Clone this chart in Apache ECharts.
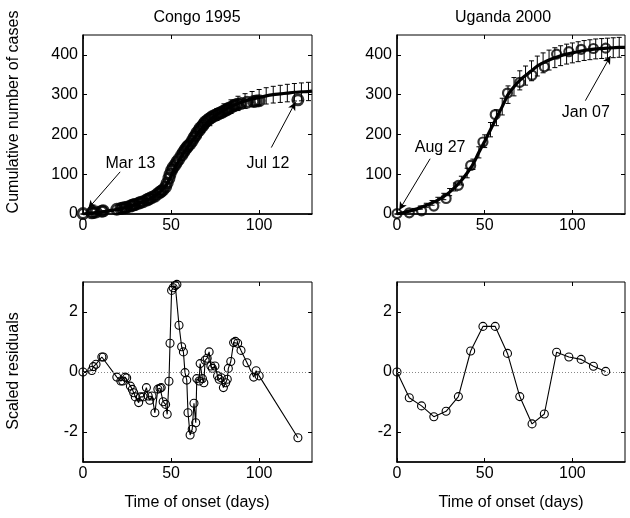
<!DOCTYPE html>
<html><head><meta charset="utf-8">
<script src="https://cdn.jsdelivr.net/npm/echarts/dist/echarts.min.js"></script>
<style>html,body{margin:0;padding:0;background:#fff}#c{width:630px;height:518px}</style>
</head><body><div id="c"></div>
<script>
// ---- Congo 1995 ----
const congoDays = [0,5,5.9,7.4,10.7,11.5,19.2,21.5,22.6,23.9,24.8,26.9,28,28.8,29.7,31.6,32.6,34.1,36,37,37.9,39.2,40.8,42.5,43.7,44.4,45.5,46.9,47.8,48.8,49.4,50.3,51.2,52.4,53.3,54.5,56,57,57.9,58.9,59.6,60.8,62,63,64,64.6,65.9,66.5,67.8,68.6,69.3,70.5,71.6,72.6,73.5,74.9,76.4,77.3,78.5,79.7,81,81.9,82.5,83.9,85.5,86.5,87.8,89.7,93.1,96.9,98.3,100,122];
const congoCases = [1,3,4,5,7,8,12,14,15,16,17,20,22,23,24,27,29,31,35,37,39,42,45,51,55,57,61,68,78,90,100,110,117,124,131,138,148,155,161,167,171,176,184,192,198,204,210,216,221,226,231,235,239,242,245,248,251,253,255,258,261,263,265,268,272,274,276,278,281,283,284,285,287];
const congoResid = [0,0.05,0.18,0.26,0.5,0.5,-0.17,-0.3,-0.3,-0.17,-0.2,-0.47,-0.58,-0.69,-0.83,-1.02,-0.83,-0.83,-0.52,-0.8,-0.94,-0.8,-1.36,-0.57,-0.54,-0.52,-0.99,-1.08,-1.41,-0.31,0.96,2.72,2.81,2.88,2.92,1.56,0.84,0.67,-0.02,-0.27,-1.36,-2.1,-1.91,-1.04,-1.69,-0.22,-0.3,0.28,-0.22,-0.36,0.39,0.46,0.67,0.2,0.12,0.2,-0.13,-0.24,-0.19,-0.52,-0.36,-0.24,0.12,0.35,0.98,1.02,0.96,0.72,0.31,-0.17,0.04,-0.13,-2.19];
const congoFitDays = [0,4,8,12,16,20,24,28,32,36,40,44,48,52,56,60,64,68,72,76,80,84,88,92,96,100,104,108,112,116,120,124,128,130];
const congoFit = [0,2,4,6,9,12,16,21,27,34,43,56,78,115,145,172,196,218,236,250,261,270,278,284,289,293,297,300,302,304,306,307,308,309];
const congoErrHalf = [0,1,1.5,2,2.5,3,3.5,4,5,5.5,6,7,8,9,10,11,12,13,14,15,16,17,18,18.5,19,20,20.5,21,21.5,22,22,22.5,23];

// ---- Uganda 2000 ----
const ugandaDays = [0,7,14,21,28,35,42,49,56,63,70,77,84,91,98,105,112,119];
const ugandaCases = [1,3,8,20,39,72,122,181,250,304,331,349,370,402,408,414,416,417];
const ugandaResid = [0,-0.86,-1.13,-1.49,-1.31,-0.82,0.7,1.52,1.52,0.62,-0.82,-1.73,-1.4,0.66,0.5,0.42,0.19,0.02];
const ugandaFitDays = [0,3.3,6.7,10,13.3,16.7,20,23.3,26.7,30,33.3,36.7,40,43.3,46.7,50,53.3,56.7,60,63.3,66.7,70,73.3,76.7,80,83.3,86.7,90,93.3,96.7,100,103.3,106.7,110,113.3,116.7,120,123.3,126.7,130];
const ugandaFit = [0,3,7,11,16,22,28,35,44,55,68,84,103,125,155,183,212,242,270,300,320,336,348,360,372,380,387,393,398,402,405,408,411,413,415,416,417,418,419,419];
const ugandaErrHalf = [0,1,2,3,4,5,6,7,8,9,10,11,12,13,14,16,18,20,21,22,23,24,24,25,25,25,25,25,25,25,25,25,25,25,25,25,25,25,25];

// tick labels
const xTicks = [0,50,100];
const yTopTicks = [0,100,200,300,400];
const yBotTicks = [-2,0,2];

const FONT = 'Liberation Sans, Arial, Helvetica, sans-serif';
const TICK_FS = 16, LABEL_FS = 16, TITLE_FS = 16;
const chart = echarts.init(document.getElementById('c'), null, {renderer:'canvas'});

const grids = [
  {left:83, top:35, width:229, height:179},
  {left:397, top:35, width:228, height:179},
  {left:83, top:282, width:229, height:180},
  {left:397, top:282, width:228, height:180}
];
grids.forEach(g=>{g.show=true;g.borderColor='#000';g.borderWidth=1;g.backgroundColor='#fff';});

function xAx(i, top){
  return {type:'value', gridIndex:i, min:0, max:130, position: top?'top':'bottom',
    axisLine:{show:!top, onZero:false, lineStyle:{color:'#000', width:1.5}},
    axisTick:{show:true, inside:true, length:4, customValues:xTicks, lineStyle:{color:'#000'}},
    axisLabel:{show:!top, customValues:xTicks, color:'#000', fontSize:TICK_FS, fontFamily:FONT, margin:4},
    splitLine:{show:false}};
}
function yAx(i, right, bottom){
  const ticks = bottom? yBotTicks : yTopTicks;
  return {type:'value', gridIndex:i, min: bottom?-3:0, max: bottom?3:450, position: right?'right':'left',
    axisLine:{show:!right, onZero:false, lineStyle:{color:'#000', width:1.5}},
    axisTick:{show:true, inside:true, length:4, customValues:ticks, lineStyle:{color:'#000'}},
    axisLabel:{show:!right, customValues:ticks, color:'#000', fontSize:TICK_FS, fontFamily:FONT, margin:5},
    splitLine:{show:false}};
}
const xAxes = [], yAxes = [];
for (let i=0;i<4;i++){ xAxes.push(xAx(i,false)); yAxes.push(yAx(i,false,i>=2)); }
for (let i=0;i<4;i++){ xAxes.push(xAx(i,true)); yAxes.push(yAx(i,true,i>=2)); }

function errSeries(idx, days, fit, half){
  const data = half.map((h,k)=>[days[k], fit[k], h]);
  return {type:'custom', xAxisIndex:idx, yAxisIndex:idx, data:data, z:2,
    renderItem:(params, api)=>{
      const x = api.value(0), c = api.value(1), h = api.value(2);
      const top = api.coord([x, c+h]), bot = api.coord([x, c-h]);
      const cw = 2.5;
      return {type:'group', children:[
        {type:'line', shape:{x1:top[0],y1:top[1],x2:bot[0],y2:bot[1]}, style:{stroke:'#000', lineWidth:1}},
        {type:'line', shape:{x1:top[0]-cw,y1:top[1],x2:top[0]+cw,y2:top[1]}, style:{stroke:'#000', lineWidth:1}},
        {type:'line', shape:{x1:bot[0]-cw,y1:bot[1],x2:bot[0]+cw,y2:bot[1]}, style:{stroke:'#000', lineWidth:1}}
      ]};
    }};
}
function dataSeries(idx, days, vals, size, bw){
  return {type:'scatter', xAxisIndex:idx, yAxisIndex:idx, data: days.map((d,k)=>[d, vals[k]]),
    symbol:'circle', symbolSize:size, z:3, silent:true,
    itemStyle:{color:'rgba(0,0,0,0)', borderColor:'#000', borderWidth:bw}};
}
function annot(text, tx, ty, from, to){
  return {
    markPoint:{symbol:'circle', symbolSize:0, silent:true,
      label:{show:true, formatter:text, color:'#000', fontSize:LABEL_FS, fontFamily:FONT, position:'inside'},
      data:[{coord:[tx,ty]}]},
    markLine:{silent:true, symbol:['none','arrow'], symbolSize:[6,8], lineStyle:{color:'#000', width:1, type:'solid'},
      label:{show:false}, data:[[{coord:from},{coord:to}]]}
  };
}
function fitSeries(idx, days, fit){
  return {type:'line', xAxisIndex:idx, yAxisIndex:idx, data: days.map((d,k)=>[d, fit[k]]),
    symbol:'none', smooth:0.3, z:4, silent:true, lineStyle:{color:'#000', width:3.2}};
}
function annotSeries(idx, a){
  return Object.assign({type:'line', xAxisIndex:idx, yAxisIndex:idx, data:[], symbol:'none', z:5}, a);
}
function residSeries(idx, days, vals){
  return {type:'line', xAxisIndex:idx, yAxisIndex:idx, data: days.map((d,k)=>[d, vals[k]]),
    symbol:'circle', symbolSize:8, showAllSymbol:true, z:3, silent:true,
    lineStyle:{color:'#000', width:1.1},
    itemStyle:{color:'rgba(0,0,0,0)', borderColor:'#000', borderWidth:1.1},
    markLine:{silent:true, symbol:'none', label:{show:false},
      lineStyle:{color:'#888', width:1, type:[1,2]}, data:[{yAxis:0}]}};
}

const series = [
  errSeries(0, congoFitDays, congoFit, congoErrHalf),
  dataSeries(0, congoDays, congoCases, 10, 3),
  fitSeries(0, congoFitDays, congoFit),
  annotSeries(0, annot('Mar 13', 26.9, 127, [21.1,106], [3,14])),
  annotSeries(0, annot('Jul 12', 105, 127, [106.9,167], [120.6,281])),
  errSeries(1, ugandaFitDays, ugandaFit, ugandaErrHalf),
  dataSeries(1, ugandaDays, ugandaCases, 9, 2.2),
  fitSeries(1, ugandaFitDays, ugandaFit),
  annotSeries(1, annot('Aug 27', 24.6, 166, [18.9,139], [1.3,10])),
  annotSeries(1, annot('Jan 07', 107.7, 254, [107.4,285], [121.7,397])),
  residSeries(2, congoDays, congoResid),
  residSeries(3, ugandaDays, ugandaResid)
];

function txt(t, x, y, rot, fs){
  return {type:'text', x:x, y:y, rotation: rot||0,
    style:{text:t, fill:'#000', font:(fs||LABEL_FS)+'px '+FONT, textAlign:'center', textVerticalAlign:'middle'}};
}

chart.setOption({
  animation:false,
  grid:grids, xAxis:xAxes, yAxis:yAxes, series:series,
  graphic:[
    txt('Congo 1995', 197, 18, 0, TITLE_FS),
    txt('Uganda 2000', 503, 18, 0, TITLE_FS),
    txt('Cumulative number of cases', 14, 112, Math.PI/2),
    txt('Scaled residuals', 14, 371, Math.PI/2),
    txt('Time of onset (days)', 197, 503),
    txt('Time of onset (days)', 511, 503)
  ]
});
</script></body></html>
